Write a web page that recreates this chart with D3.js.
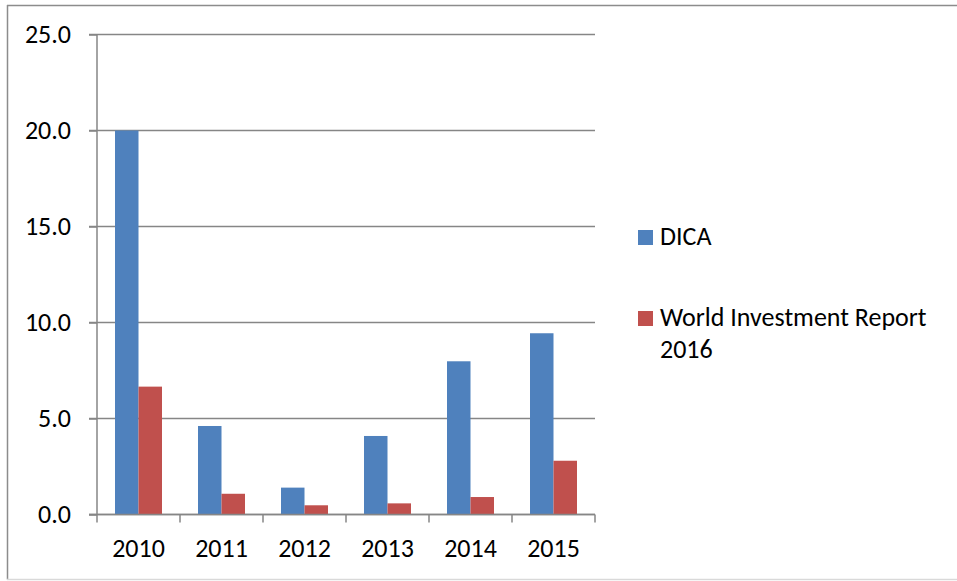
<!DOCTYPE html>
<meta charset="utf-8" />
<script src="https://d3js.org/d3.v7.min.js"></script>
<style>
    body { margin: 0; background: #fff; }
    svg text { font-family: Calibri, Carlito, Lato, sans-serif; fill: #000; }
</style>
<div id="my_dataviz"></div>

<script>
    const years = ["2010", "2011", "2012", "2013", "2014", "2015"];
    const seriesNames = ["DICA", "World Investment Report 2016"];
    const dica = [20.0, 4.61, 1.40, 4.09, 7.98, 9.44];
    const wir = [6.66, 1.08, 0.48, 0.58, 0.91, 2.80];
    const yTicks = [0, 5, 10, 15, 20, 25];

    const colors = ["#4F81BD", "#C0504D"];
    const gridColor = "#868686";
    const fontSize = 26;

    const width = 957, height = 581;

    const svg = d3.select("#my_dataviz")
        .append("svg")
        .attr("width", width)
        .attr("height", height);

    // outer frame of the chart object
    svg.append("line").attr("x1", 7.5).attr("x2", 7.5).attr("y1", 5).attr("y2", 579.5)
        .attr("stroke", "#8c8c8c").attr("stroke-width", 1.5);
    svg.append("line").attr("x1", 7).attr("x2", 957).attr("y1", 5.5).attr("y2", 5.5)
        .attr("stroke", "#8c8c8c").attr("stroke-width", 1.5);
    svg.append("line").attr("x1", 7).attr("x2", 957).attr("y1", 579.5).attr("y2", 579.5)
        .attr("stroke", "#d9d9d9").attr("stroke-width", 1.5);

    const x = d3.scaleBand()
        .domain(years)
        .range([97, 595]);

    const barW = 23.5;
    const x1 = d3.scaleBand()
        .domain(seriesNames)
        .range([(x.bandwidth() - 2 * barW) / 2, (x.bandwidth() + 2 * barW) / 2]);

    const y = d3.scaleLinear()
        .domain([0, 25])
        .range([514.5, 34.5]);

    // gridlines
    svg.append("g")
        .selectAll("line")
        .data(yTicks)
        .join("line")
        .attr("x1", 89)
        .attr("x2", 595)
        .attr("y1", d => y(d))
        .attr("y2", d => y(d))
        .attr("stroke", gridColor)
        .attr("stroke-width", 1.5);

    // y axis
    const yAxis = svg.append("g")
        .attr("transform", "translate(97,0)")
        .call(d3.axisLeft(y).tickValues(yTicks).tickFormat(d3.format(".1f")).tickSize(8).tickPadding(18));
    yAxis.selectAll("line, path").attr("stroke", gridColor).attr("stroke-width", 1.5);
    yAxis.select(".domain").attr("d", `M0,${y(25)}V${y(0)}`);
    yAxis.selectAll("text").style("font-size", fontSize + "px").attr("fill", "#000");

    // bars
    const rows = years.map((yr, i) => ({ year: yr, values: [dica[i], wir[i]] }));
    svg.append("g")
        .selectAll("g")
        .data(rows)
        .join("g")
        .attr("transform", d => `translate(${x(d.year)},0)`)
        .selectAll("rect")
        .data(d => d.values.map((v, j) => ({ name: seriesNames[j], value: v, c: colors[j] })))
        .join("rect")
        .attr("x", d => x1(d.name))
        .attr("width", x1.bandwidth())
        .attr("y", d => y(d.value))
        .attr("height", d => y(0) - y(d.value))
        .attr("fill", d => d.c);

    // x axis line and boundary ticks
    const xAxis = svg.append("g");
    xAxis.append("line")
        .attr("x1", 89).attr("x2", 595)
        .attr("y1", y(0)).attr("y2", y(0))
        .attr("stroke", gridColor).attr("stroke-width", 1.5);
    xAxis.selectAll(".bt")
        .data(years.map(d => x(d)).concat([x.range()[1]]))
        .join("line")
        .attr("class", "bt")
        .attr("x1", d => d).attr("x2", d => d)
        .attr("y1", y(0)).attr("y2", y(0) + 8)
        .attr("stroke", gridColor).attr("stroke-width", 1.5);

    const xLabels = svg.append("g")
        .attr("transform", `translate(0,${y(0)})`)
        .call(d3.axisBottom(x).tickSize(0).tickPadding(24));
    xLabels.select(".domain").remove();
    xLabels.selectAll("text").style("font-size", fontSize + "px").attr("fill", "#000");

    // legend
    const legendY = [245, 326];
    const legend = svg.append("g");
    legend.selectAll("rect")
        .data(seriesNames)
        .join("rect")
        .attr("x", 638)
        .attr("y", (d, i) => legendY[i] - 15)
        .attr("width", 15)
        .attr("height", 15)
        .attr("fill", (d, i) => colors[i]);
    legend.selectAll("text")
        .data([["DICA"], ["World Investment Report", "2016"]])
        .join("text")
        .attr("x", 660)
        .attr("y", (d, i) => legendY[i])
        .style("font-size", fontSize + "px")
        .selectAll("tspan")
        .data(d => d)
        .join("tspan")
        .attr("x", 660)
        .attr("dy", (d, i) => i === 0 ? 0 : 31.7)
        .text(d => d);
</script>
